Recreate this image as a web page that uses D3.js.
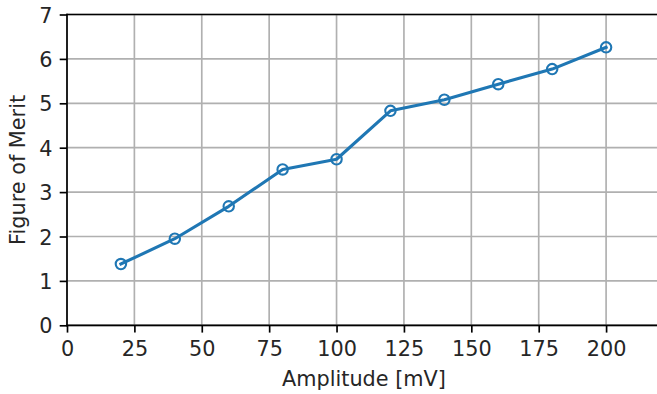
<!DOCTYPE html>
<html lang="en">
<head>
    <meta charset="UTF-8">
    <title>Figure of Merit</title>
    <script src="https://cdn.jsdelivr.net/npm/d3@7"></script>
    <style>
        html, body { margin: 0; padding: 0; background: #fff; }
        #chart { width: 657px; height: 394px; }
        text { font-family: "DejaVu Sans", sans-serif; fill: #262626; }
    </style>
</head>
<body>
<div id="chart"></div>
<script>
    // data
    var amplitude = [20, 40, 60, 80, 100, 120, 140, 160, 180, 200];
    var merit = [1.38, 1.95, 2.68, 3.51, 3.74, 4.83, 5.08, 5.43, 5.77, 6.26];
    var xTicks = [0, 25, 50, 75, 100, 125, 150, 175, 200];
    var yTicks = [0, 1, 2, 3, 4, 5, 6, 7];

    var width = 657, height = 394;
    var mLeft = 67, mTop = 14.5, mRight = 660, mBottom = 325.3;
    var fs = 20.8;

    var svg = d3.select("#chart").append("svg")
        .attr("width", width)
        .attr("height", height);

    var x = d3.scaleLinear().domain([0, 220]).range([mLeft, mRight]);
    var y = d3.scaleLinear().domain([0, 7]).range([mBottom, mTop]);

    // grid
    var grid = svg.append("g");
    grid.selectAll(".gx").data(xTicks).enter().append("line")
        .attr("x1", function (d) { return x(d); })
        .attr("x2", function (d) { return x(d); })
        .attr("y1", mTop).attr("y2", mBottom)
        .attr("stroke", "#b0b0b0").attr("stroke-width", 1.67);
    grid.selectAll(".gy").data(yTicks).enter().append("line")
        .attr("y1", function (d) { return y(d); })
        .attr("y2", function (d) { return y(d); })
        .attr("x1", mLeft).attr("x2", mRight)
        .attr("stroke", "#b0b0b0").attr("stroke-width", 1.67);

    // axes
    var xAxis = d3.axisBottom(x).tickValues(xTicks).tickSize(7.3).tickPadding(7.3)
        .tickFormat(d3.format("d"));
    var yAxis = d3.axisLeft(y).tickValues(yTicks).tickSize(7.3).tickPadding(7.3)
        .tickFormat(d3.format("d"));

    var gx = svg.append("g").attr("transform", "translate(0," + mBottom + ")").call(xAxis);
    var gy = svg.append("g").attr("transform", "translate(" + mLeft + ",0)").call(yAxis);
    [gx, gy].forEach(function (g) {
        g.select(".domain").remove();
        g.selectAll(".tick line").attr("stroke", "#000").attr("stroke-width", 1.67);
        g.selectAll(".tick text").attr("font-size", fs).attr("fill", "#262626")
            .attr("font-family", "DejaVu Sans");
    });
    gx.selectAll(".tick text").attr("dy", "0.76em");
    gy.selectAll(".tick text").attr("dy", "0.36em");

    // spines
    var spines = [
        [mLeft, mTop, mLeft, mBottom],
        [mLeft, mBottom, mRight, mBottom],
        [mLeft, mTop, mRight, mTop],
        [mRight, mTop, mRight, mBottom]
    ];
    svg.selectAll(".spine").data(spines).enter().append("line")
        .attr("x1", function (d) { return d[0]; })
        .attr("y1", function (d) { return d[1]; })
        .attr("x2", function (d) { return d[2]; })
        .attr("y2", function (d) { return d[3]; })
        .attr("stroke", "#000").attr("stroke-width", 1.67).attr("stroke-linecap", "square");

    // line + markers
    var pts = amplitude.map(function (a, i) { return [a, merit[i]]; });
    var line = d3.line()
        .x(function (d) { return x(d[0]); })
        .y(function (d) { return y(d[1]); });
    svg.append("path").datum(pts)
        .attr("d", line)
        .attr("fill", "none")
        .attr("stroke", "#1f77b4")
        .attr("stroke-width", 3.1)
        .attr("stroke-linejoin", "round")
        .attr("stroke-linecap", "square");
    svg.selectAll(".pt").data(pts).enter().append("circle")
        .attr("cx", function (d) { return x(d[0]); })
        .attr("cy", function (d) { return y(d[1]); })
        .attr("r", 5.2)
        .attr("fill", "none")
        .attr("stroke", "#1f77b4")
        .attr("stroke-width", 2.1);

    // labels
    svg.append("text")
        .attr("x", 364)
        .attr("y", 386)
        .attr("text-anchor", "middle")
        .attr("font-size", fs)
        .text("Amplitude [mV]");
    svg.append("text")
        .attr("transform", "translate(25," + (mTop + mBottom) / 2 + ") rotate(-90)")
        .attr("text-anchor", "middle")
        .attr("font-size", fs)
        .text("Figure of Merit");
</script>
</body>
</html>
